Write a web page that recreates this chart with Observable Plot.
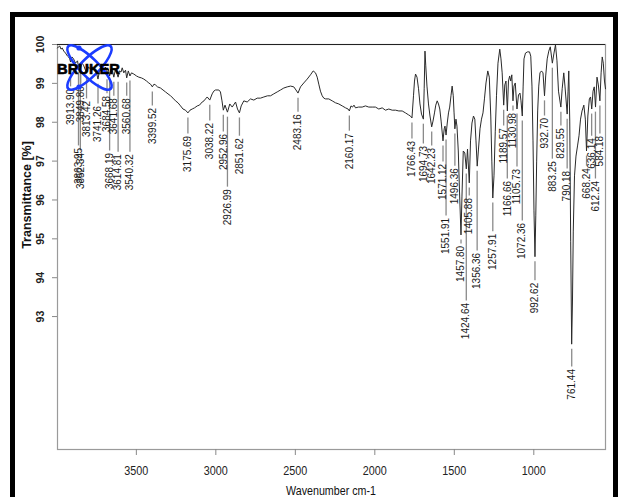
<!DOCTYPE html>
<html><head><meta charset="utf-8">
<script src="https://cdn.jsdelivr.net/npm/d3@7"></script>
<script src="https://cdn.jsdelivr.net/npm/@observablehq/plot@0.6"></script>
<style>
body{margin:0;background:#fff;}
#wrap{position:relative;width:618px;height:497px;overflow:hidden;background:#fff;}
#border{position:absolute;left:10px;top:12px;width:598px;height:540px;border:5px solid #000;pointer-events:none;}
</style></head><body><div id="wrap"><div id="chart"></div><div id="border"></div></div>
<script>
const wavenumber = [3996,3990,3981.5,3974,3966.4,3956.4,3945.7,3933,3920.5,3913.9,3905,3895,3883,3870,3863.9,3856,3850.7,3842,3832.5,3813.4,3801,3788.4,3776,3763.3,3750.7,3741.3,3732,3719,3706.7,3694,3684.6,3676.4,3668.2,3659.5,3650,3641.7,3631,3614.8,3606,3596.6,3589,3579,3568,3560.7,3550.7,3540.3,3530.5,3516,3499,3484.6,3467.6,3453,3436,3421.7,3411,3399.5,3389,3379.6,3367,3348,3332.4,3316.7,3301,3285,3269.5,3253.8,3238,3222,3206.6,3190.9,3175.7,3162.6,3148.7,3134,3117,3103,3086,3074.5,3065,3054.4,3038.2,3023,3013,3002.2,2981.4,2971,2961.3,2953,2942.4,2927,2912.3,2897,2876,2863.8,2851.6,2840.5,2824,2803,2782,2761,2740,2719,2698,2675,2656,2635.5,2614,2593,2572.6,2551,2530,2509.7,2496,2483.2,2467.5,2447,2425.4,2404.6,2387.6,2373,2362.5,2352.5,2342,2331,2321,2310,2289.6,2268,2247.4,2226.6,2205,2184,2168.4,2160.2,2150,2140.4,2131,2121.6,2102.7,2079.4,2058.7,2038,2016.6,1996,1975,1953.7,1933,1912,1890.7,1869.4,1849,1827.8,1807,1788,1775.6,1766.4,1756.8,1750.5,1744,1734.7,1725,1716,1706.4,1694.5,1689.5,1684.5,1679.5,1672,1662.4,1653,1642.4,1634,1624.7,1616.6,1607.7,1599.5,1591.3,1583,1571.2,1563.6,1558.6,1551.9,1544.4,1536.6,1529,1521,1513.6,1506.6,1501.5,1496.5,1489.6,1483.3,1475,1467.4,1458,1451.8,1443.6,1434,1424.6,1417,1405.8,1398,1388.9,1379.4,1371,1363.6,1356,1347.9,1338.4,1329,1319.6,1310,1300.7,1289.5,1280,1270.6,1264,1258,1250.4,1242.3,1234.7,1225.3,1214,1206.5,1199,1189.4,1182.5,1175,1166.3,1159.3,1151.9,1145,1138.4,1131,1124.7,1116.6,1105.8,1096.3,1087,1080.6,1072.4,1067,1061.7,1052.4,1039.7,1027,1019,1011.5,1005,998.9,992.6,987.5,982,975.6,968.8,961.2,951.6,942.2,932.7,925.2,915.7,905.7,896.3,883.3,873,863.6,854.2,844.7,829.8,821.5,811.5,804,790,784.5,780,773.8,768,761.8,756.7,751.7,744,734.6,725,715.6,706,696.6,685.3,675.8,668.4,660,650.6,643,635.6,627.4,619.8,611.8,602.4,594,584.2,576.6,569.6,562.8,555.4,549];
const transmittance = [99.91,99.94,99.96,99.88,99.91,99.83,99.78,99.70,99.65,99.55,99.68,99.63,99.52,99.58,99.42,99.50,99.40,99.52,99.47,99.27,99.42,99.37,99.42,99.32,99.27,99.11,99.32,99.40,99.34,99.42,99.22,99.37,99.19,99.37,99.32,99.16,99.37,99.16,99.32,99.29,99.40,99.27,99.34,99.14,99.32,99.19,99.27,99.24,99.19,99.16,99.14,99.11,99.06,99.01,98.98,98.91,98.98,98.96,98.91,98.88,98.83,98.78,98.73,98.68,98.62,98.55,98.50,98.42,98.34,98.31,98.24,98.31,98.34,98.37,98.42,98.44,98.52,98.55,98.60,98.65,98.57,98.73,98.80,98.83,98.83,98.78,98.55,98.31,98.44,98.26,98.47,98.39,98.52,98.34,98.24,98.42,98.55,98.52,98.60,98.57,98.62,98.62,98.65,98.68,98.68,98.73,98.78,98.83,98.88,98.91,98.93,98.91,98.83,98.75,98.91,99.01,99.11,99.22,99.32,99.27,99.16,98.98,98.80,98.68,98.62,98.60,98.60,98.55,98.50,98.47,98.42,98.37,98.34,98.29,98.42,98.39,98.44,98.37,98.39,98.39,98.42,98.39,98.39,98.39,98.34,98.37,98.31,98.34,98.31,98.31,98.29,98.29,98.24,98.19,98.16,98.11,98.68,99.06,99.24,99.16,98.86,98.47,98.21,98.08,98.86,99.83,99.45,98.93,98.47,98.16,97.88,98.03,98.24,98.44,98.55,98.47,98.34,98.03,97.52,97.83,97.90,97.67,97.98,98.24,98.39,98.68,98.93,98.68,98.24,97.83,98.08,97.90,97.26,96.23,95.10,96.10,97.26,97.21,96.80,97.31,96.44,97.52,97.98,98.16,98.08,97.52,96.87,97.31,97.83,98.08,98.24,98.62,99.01,99.32,99.16,98.16,97.00,96.05,96.62,97.77,98.68,99.52,99.88,99.63,99.27,98.44,98.96,99.06,98.29,99.06,99.19,99.06,99.22,98.55,98.93,99.01,98.34,98.70,98.75,98.55,98.16,98.93,99.63,99.78,99.81,99.81,99.70,98.93,97.52,95.72,94.54,95.59,97.00,98.29,98.93,99.27,99.32,99.27,98.68,99.19,99.63,99.83,99.94,99.52,99.78,99.99,99.58,98.80,98.39,98.86,99.27,98.93,98.21,98.80,99.32,98.03,94.94,92.29,93.40,95.20,96.62,97.13,97.39,97.65,98.08,98.29,98.44,98.08,97.26,98.16,98.60,98.65,98.34,98.80,98.91,98.39,99.16,98.96,98.55,99.27,99.68,99.52,99.06,98.86];
const peakWavenumber = [3913.90,3863.95,3852.34,3849.80,3813.42,3741.26,3684.58,3668.19,3641.68,3614.81,3560.68,3540.32,3399.52,3175.69,3038.22,2952.96,2926.99,2851.62,2483.16,2160.17,1766.43,1694.73,1642.23,1571.12,1551.91,1496.36,1457.80,1424.64,1405.88,1356.36,1257.91,1189.57,1166.66,1130.98,1105.73,1072.36,992.62,932.70,883.25,829.55,790.18,761.44,668.24,636.14,612.24,584.18];
const peakTransmittance = [99.55,99.42,99.40,99.40,99.27,99.11,99.22,99.19,99.16,99.16,99.14,99.19,98.91,98.24,98.57,98.31,98.26,98.24,98.75,98.29,98.11,98.08,97.88,97.52,97.67,97.83,95.10,96.80,96.44,96.87,96.05,98.44,98.29,98.55,98.34,98.16,94.54,98.68,99.52,98.39,98.21,92.29,97.26,98.34,98.39,98.55];
const labelTransmittance = [98.86,97.34,97.21,98.93,98.55,98.42,98.68,97.21,98.62,97.18,98.62,97.18,98.37,97.65,97.98,97.70,96.28,97.59,98.21,97.72,97.52,97.39,97.34,96.93,95.54,96.82,94.82,93.35,96.05,94.64,95.13,97.85,96.49,98.24,96.80,95.41,93.87,98.11,97.00,97.85,96.75,91.65,96.82,97.59,96.49,97.65];
const xTicks = [3500,3000,2500,2000,1500,1000];
const yTicks = [93,94,95,96,97,98,99,100];
const xTitle = "Wavenumber cm-1";
const yTitle = "Transmittance [%]";
const logoText = "BRUKER";

const spectrum = wavenumber.map((w,i)=>({w, t: transmittance[i]}));
const peaks = peakWavenumber.map((w,i)=>({w, t: peakTransmittance[i], l: labelTransmittance[i], label: w.toFixed(2)}));
const lineData = peaks.filter(d => d.t - 0.13 > d.l + 0.05);

const sans = "'Liberation Sans', Arial, sans-serif";

const chart = Plot.plot({
  width: 618, height: 497,
  marginLeft: 57, marginRight: 13, marginTop: 44, marginBottom: 48,
  style: {background: "transparent", overflow: "visible"},
  x: {domain: [3996, 549]},
  y: {domain: [89.58, 100]},
  marks: [
    Plot.frame({stroke: "#9a9a9a", strokeWidth: 1.2}),
    Plot.ruleY([100], {stroke: "#222", strokeWidth: 1.2}),
    Plot.axisX(xTicks, {tickSize: 6, tickPadding: 10, stroke: "#888", fill: "#222", fontSize: 13.5, fontFamily: sans, label: null, tickFormat: d => String(d)}),
    Plot.axisY(yTicks, {tickSize: 5, stroke: "#888", tickFormat: () => "", label: null}),
    Plot.text(yTicks, {y: d => d, text: d => String(d), frameAnchor: "left", dx: -17, rotate: -90, textAnchor: "middle", fontWeight: "bold", fontSize: 10.5, fontFamily: sans, fill: "#222"}),
    Plot.ruleX(lineData, {x: "w", y1: d => d.t - 0.13, y2: d => d.l + 0.05, stroke: "#8a8a8a", strokeWidth: 1.3}),
    Plot.text(peaks, {x: "w", y: "l", text: "label", rotate: -90, textAnchor: "end", fontSize: 10, fontFamily: sans, fill: "#1a1a1a"}),
    Plot.line(spectrum, {x: "w", y: "t", stroke: "#2a2a2a", strokeWidth: 1})
  ]
});
document.getElementById("chart").appendChild(chart);

const svg = d3.select(chart);
// condensed look for the x tick labels
svg.selectAll('g[aria-label="x-axis tick label"] text').each(function() {
  const t = this.getAttribute("transform") || "";
  this.setAttribute("transform", t + " scale(0.8,1)");
});
// axis titles
svg.append("text").attr("transform", "translate(28,195) rotate(-90)")
  .attr("text-anchor", "middle").attr("dominant-baseline", "middle")
  .attr("font-family", sans).attr("font-weight", "bold").attr("font-size", 12.5).attr("fill", "#111").text(yTitle);
svg.append("text").attr("x", 331).attr("y", 495).attr("text-anchor", "middle")
  .attr("textLength", 90).attr("lengthAdjust", "spacingAndGlyphs")
  .attr("font-family", sans).attr("font-size", 13).attr("fill", "#111").text(xTitle);
// logo
const g = svg.append("g");
[45, -45].forEach(a => g.append("ellipse").attr("cx", 89.5).attr("cy", 67.5).attr("rx", 30).attr("ry", 9)
  .attr("transform", `rotate(${a} 89.5 67.5)`).attr("fill", "none").attr("stroke", "#1b3cff").attr("stroke-width", 2.6));
[[79,48],[79,87]].forEach(([x,y]) => g.append("circle").attr("cx", x).attr("cy", y).attr("r", 2.6).attr("fill", "#1b3cff"));
g.append("text").attr("x", 57).attr("y", 73.5).attr("text-anchor", "start").attr("textLength", 63).attr("lengthAdjust", "spacingAndGlyphs")
  .attr("font-family", sans).attr("font-weight", 900).attr("font-size", 15).attr("fill", "#000")
  .attr("stroke", "#000").attr("stroke-width", 0.6).text(logoText);
</script></body></html>
